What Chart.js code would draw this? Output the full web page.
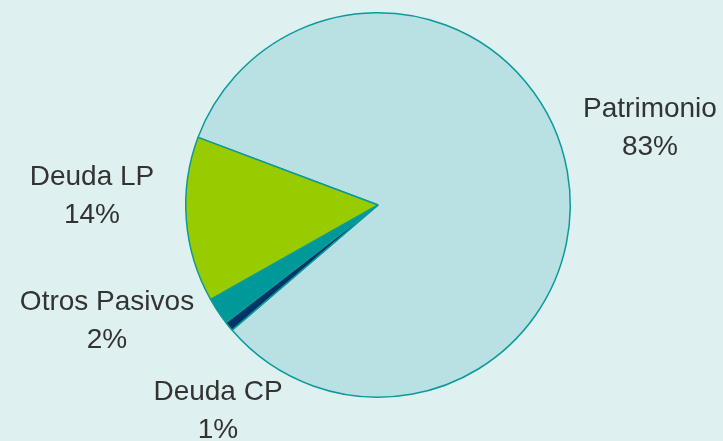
<!DOCTYPE html>
<html>
<head>
<meta charset="utf-8">
<script src="https://cdn.jsdelivr.net/npm/chart.js@4"></script>
<style>
  html, body { margin: 0; padding: 0; background: #dff0f0; }
  #wrap { width: 723px; height: 441px; }
</style>
</head>
<body>
<div id="wrap"><canvas id="pieChart" width="723" height="441"></canvas></div>
<script>
// Données du graphique (sens horaire)
const categories = ['Patrimonio', 'Deuda CP', 'Otros Pasivos', 'Deuda LP'];
const values = [83.0, 0.8, 2.3, 13.9];
const colors = ['#b9e0e3', '#003366', '#009999', '#99cc00'];

// Position des étiquettes (centre du bloc de texte)
const labelAnchors = [
    { x: 650, y: 128 },
    { x: 218, y: 411 },
    { x: 107, y: 321 },
    { x: 92, y: 196 }
];

// Plugin pour dessiner les étiquettes "nom + pourcentage"
const pieLabels = {
    id: 'pieLabels',
    afterDatasetsDraw(chart) {
        const ctx = chart.ctx;
        const data = chart.data.datasets[0].data;
        const total = data.reduce((a, b) => a + b, 0);
        ctx.save();
        ctx.fillStyle = '#333333';
        ctx.font = '28px "Liberation Sans", Arial, sans-serif';
        ctx.textAlign = 'center';
        ctx.textBaseline = 'middle';
        chart.data.labels.forEach((label, i) => {
            const pct = Math.round(data[i] / total * 100) + '%';
            const p = labelAnchors[i];
            ctx.fillText(label, p.x, p.y - 19);
            ctx.fillText(pct, p.x, p.y + 19);
        });
        ctx.restore();
    }
};

const ctx = document.getElementById('pieChart').getContext('2d');
new Chart(ctx, {
    type: 'pie',
    data: {
        labels: categories,
        datasets: [{
            data: values,
            backgroundColor: colors,
            borderColor: '#0a9a9a',
            borderWidth: 1.5
        }]
    },
    options: {
        responsive: false,
        animation: false,
        rotation: 290.6,
        layout: {
            padding: { left: 185, right: 152, top: 12, bottom: 43 }
        },
        plugins: {
            legend: { display: false },
            tooltip: { enabled: false }
        }
    },
    plugins: [pieLabels]
});
</script>
</body>
</html>
